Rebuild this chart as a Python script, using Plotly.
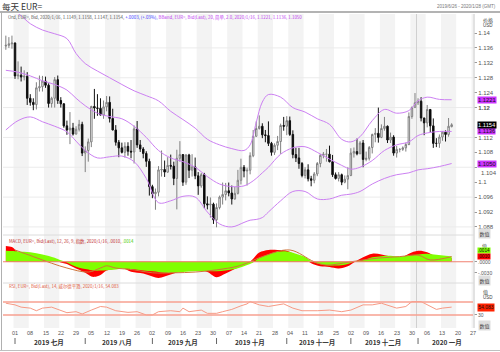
import pandas as pd
import plotly.graph_objects as go

# ---------------- data ----------------
dates = pd.bdate_range("2019-06-26", "2020-01-28")

opens = [
1.1365,1.1367,1.1371,
1.1373,1.1285,1.1287,1.1282,1.1284,
1.1225,1.1214,1.1208,1.1253,1.1256,
1.1271,1.1260,1.1211,1.1225,1.1275,
1.1219,1.1210,1.1151,1.1140,1.1145,
1.1129,1.1142,1.1155,1.1078,1.1085,
1.1108,1.1203,1.1199,1.1198,1.1180,
1.1202,1.1214,1.1171,1.1140,1.1107,
1.1092,1.1080,1.1096,1.1083,1.1081,
1.1143,1.1100,1.1089,1.1077,1.1056,
1.0988,1.0969,1.0973,1.1033,1.1034,
1.1027,1.1045,1.1043,1.1010,1.1064,
1.1074,1.1000,1.1073,1.1032,1.1041,
1.1017,1.0990,1.1020,1.0942,1.0939,
1.0941,1.0899,1.0932,1.0960,1.0967,
1.0977,1.0971,1.0955,1.0970,1.1005,
1.1040,1.1030,1.1032,1.1071,1.1123,
1.1144,1.1150,1.1127,1.1125,1.1104,
1.1080,1.1099,1.1109,1.1152,1.1150,
1.1165,1.1128,1.1074,1.1065,1.1050,
1.1018,1.1033,1.1009,1.1005,1.1022,
1.1050,1.1072,1.1075,1.1075,1.1055,
1.1020,1.1010,1.1020,1.1000,1.1008,
1.1018,1.1078,1.1082,1.1076,1.1105,
1.1061,1.1064,1.1093,1.1128,1.1131,
1.1120,1.1144,1.1150,1.1113,1.1121,
1.1078,1.1088,1.1088,1.1092,1.1101,
1.1176,1.1200,1.1213,1.1217,1.1172,
1.1159,1.1195,1.1151,1.1104,1.1104,
1.1121,1.1134,1.1128,1.1149,
]
highs = [
1.1393,1.1389,1.1393,
1.1375,1.1324,1.1310,1.1300,1.1295,
1.1236,1.1225,1.1268,1.1286,1.1285,
1.1283,1.1265,1.1229,1.1282,1.1286,
1.1228,1.1212,1.1165,1.1188,1.1159,
1.1150,1.1167,1.1162,1.1096,1.1117,
1.1205,1.1250,1.1236,1.1225,1.1219,
1.1231,1.1230,1.1197,1.1153,1.1113,
1.1106,1.1107,1.1107,1.1113,1.1152,
1.1164,1.1113,1.1094,1.1083,1.1063,
1.0993,1.0983,1.1043,1.1085,1.1058,
1.1067,1.1074,1.1055,1.1087,1.1110,
1.1075,1.1075,1.1076,1.1075,1.1066,
1.1027,1.1025,1.1025,1.0962,1.0959,
1.0945,1.0943,1.0964,1.0999,1.0998,
1.0999,1.0991,1.0987,1.1033,1.1063,
1.1046,1.1039,1.1080,1.1140,1.1163,
1.1179,1.1158,1.1140,1.1163,1.1108,
1.1104,1.1124,1.1157,1.1175,1.1177,
1.1176,1.1139,1.1092,1.1092,1.1054,
1.1040,1.1048,1.1017,1.1027,1.1054,
1.1075,1.1081,1.1089,1.1098,1.1073,
1.1026,1.1027,1.1023,1.1018,1.1040,
1.1091,1.1093,1.1117,1.1110,1.1113,
1.1082,1.1097,1.1130,1.1145,1.1200,
1.1155,1.1175,1.1152,1.1133,1.1126,
1.1097,1.1091,1.1096,1.1106,1.1187,
1.1203,1.1239,1.1225,1.1228,1.1173,
1.1207,1.1196,1.1171,1.1118,1.1128,
1.1137,1.1139,1.1172,1.1158,
]
lows = [
1.1355,1.1360,1.1358,
1.1277,1.1276,1.1270,1.1273,1.1207,
1.1205,1.1193,1.1195,1.1243,1.1243,
1.1253,1.1200,1.1200,1.1200,1.1210,
1.1200,1.1146,1.1127,1.1102,1.1125,
1.1128,1.1136,1.1070,1.1027,1.1055,
1.1094,1.1170,1.1178,1.1179,1.1170,
1.1190,1.1160,1.1139,1.1098,1.1067,
1.1077,1.1066,1.1071,1.1064,1.1050,
1.1092,1.1081,1.1064,1.1041,1.0964,
1.0957,1.0926,1.0962,1.1015,1.1014,
1.1025,1.1034,1.0992,1.0927,1.1055,
1.0990,1.0993,1.1011,1.1015,1.1008,
1.0966,1.0985,1.0930,1.0927,1.0905,
1.0888,1.0879,1.0927,1.0940,1.0951,
1.0962,1.0940,1.0953,1.0967,1.0994,
1.1013,1.0991,1.1021,1.1067,1.1122,
1.1141,1.1118,1.1107,1.1097,1.1071,
1.1073,1.1086,1.1076,1.1138,1.1126,
1.1124,1.1064,1.1054,1.1036,1.1013,
1.1010,1.1002,1.0989,1.0997,1.1016,
1.1040,1.1064,1.1055,1.1053,1.1014,
1.1007,1.1002,1.0992,1.0997,1.0981,
1.1016,1.1066,1.1072,1.1076,1.1040,
1.1056,1.1058,1.1077,1.1107,1.1106,
1.1118,1.1138,1.1105,1.1105,1.1071,
1.1066,1.1080,1.1084,1.1082,1.1099,
1.1170,1.1200,1.1207,1.1163,1.1126,
1.1147,1.1134,1.1092,1.1094,1.1092,
1.1111,1.1109,1.1122,1.1147,
]
closes = [
1.1367,1.1371,1.1373,
1.1285,1.1287,1.1282,1.1284,1.1225,
1.1214,1.1208,1.1253,1.1256,1.1271,
1.1260,1.1211,1.1225,1.1275,1.1219,
1.1210,1.1151,1.1140,1.1145,1.1129,
1.1142,1.1155,1.1078,1.1085,1.1108,
1.1203,1.1199,1.1198,1.1180,1.1202,
1.1214,1.1171,1.1140,1.1107,1.1092,
1.1080,1.1096,1.1083,1.1081,1.1143,
1.1100,1.1089,1.1077,1.1056,1.0988,
1.0969,1.0973,1.1033,1.1034,1.1027,
1.1045,1.1043,1.1010,1.1064,1.1074,
1.1000,1.1073,1.1032,1.1041,1.1017,
1.0990,1.1020,1.0942,1.0939,1.0941,
1.0899,1.0932,1.0960,1.0967,1.0977,
1.0971,1.0955,1.0970,1.1005,1.1040,
1.1030,1.1032,1.1071,1.1123,1.1144,
1.1150,1.1127,1.1125,1.1104,1.1080,
1.1099,1.1109,1.1152,1.1150,1.1165,
1.1128,1.1074,1.1065,1.1050,1.1018,
1.1033,1.1009,1.1005,1.1022,1.1050,
1.1072,1.1075,1.1075,1.1055,1.1020,
1.1010,1.1020,1.1000,1.1008,1.1018,
1.1078,1.1082,1.1076,1.1105,1.1061,
1.1064,1.1093,1.1128,1.1131,1.1120,
1.1144,1.1150,1.1113,1.1121,1.1078,
1.1088,1.1088,1.1092,1.1101,1.1176,
1.1200,1.1213,1.1217,1.1172,1.1159,
1.1195,1.1151,1.1104,1.1104,1.1121,
1.1134,1.1128,1.1150,1.1154,
]

bb_day = [0, 4, 8, 12, 16, 20, 23, 26, 30, 34, 38, 42, 46, 50, 54, 58, 62, 66, 70, 74,
          78, 80, 82, 84, 86, 90, 94, 98, 102, 106, 110, 113, 116, 120, 124, 128, 132, 135, 138, 142, 146]
bb_upper = [1.1460, 1.1452, 1.1425, 1.1408, 1.1398, 1.1385, 1.1345, 1.1318, 1.1298, 1.1280, 1.1262,
            1.1245, 1.1232, 1.1218, 1.1190, 1.1168, 1.1145, 1.1115, 1.1100, 1.1090, 1.1085, 1.1100,
            1.1160, 1.1215, 1.1235, 1.1228, 1.1200, 1.1188, 1.1170, 1.1155, 1.1115, 1.1108, 1.1122,
            1.1165, 1.1195, 1.1185, 1.1192, 1.1218, 1.1228, 1.1222, 1.1221]
bb_mid = [1.1300, 1.1295, 1.1285, 1.1272, 1.1262, 1.1247, 1.1225, 1.1205, 1.1185, 1.1176, 1.1170,
          1.1150, 1.1120, 1.1085, 1.1065, 1.1055, 1.1040, 1.1015, 1.0995, 1.0988, 1.0990, 1.0998,
          1.1010, 1.1025, 1.1040, 1.1075, 1.1092, 1.1095, 1.1080, 1.1062, 1.1045, 1.1035, 1.1040,
          1.1058, 1.1085, 1.1100, 1.1108, 1.1125, 1.1132, 1.1136, 1.1136]
bb_lower = [1.1140, 1.1165, 1.1175, 1.1162, 1.1150, 1.1135, 1.1110, 1.1085, 1.1065, 1.1068, 1.1070,
            1.1055, 1.1010, 1.0945, 1.0950, 1.0962, 1.0960, 1.0920, 1.0888, 1.0880, 1.0892, 1.0898,
            1.0900, 1.0905, 1.0920, 1.0950, 1.0975, 1.0975, 1.0955, 1.0955, 1.0965, 1.0968, 1.0975,
            1.0995, 1.1010, 1.1020, 1.1025, 1.1033, 1.1036, 1.1042, 1.1050]

# MACD (12, 26, 9)
macd_day = [0, 2, 4, 8, 12, 16, 18, 20, 22, 24, 26, 28, 29, 31, 33, 36, 38, 41, 45, 48, 50, 52, 55,
            58, 62, 66, 69, 72, 75, 78, 80, 81, 83, 86, 89, 92, 95, 98, 100, 103, 106, 109, 112, 114,
            117, 120, 123, 126, 129, 132, 135, 138, 141, 144, 146]
macd_val = [0.0043, 0.0040, 0.0026, 0.0018, 0.0010, 0.0004, -0.0002, -0.0006, -0.0014, -0.0022,
            -0.0030, -0.0040, -0.0041, -0.0036, -0.0024, -0.0018, -0.0016, -0.0027, -0.0032, -0.0040,
            -0.0044, -0.0040, -0.0032, -0.0024, -0.0020, -0.0028, -0.0042, -0.0032, -0.0020, -0.0008,
            0.0000, 0.0008, 0.0025, 0.0032, 0.0032, 0.0030, 0.0018, 0.0006, -0.0004, -0.0012, -0.0014,
            -0.0018, -0.0012, -0.0002, 0.0012, 0.0022, 0.0020, 0.0014, 0.0010, 0.0022, 0.0030, 0.0026,
            0.0014, 0.0010, 0.0010]
signal_val = [0.0030, 0.0029, 0.0028, 0.0026, 0.0020, 0.0011, 0.0004, -0.0002, -0.0010, -0.0016,
              -0.0020, -0.0023, -0.0024, -0.0024, -0.0023, -0.0021, -0.0019, -0.0020, -0.0024, -0.0026,
              -0.0028, -0.0030, -0.0030, -0.0028, -0.0026, -0.0025, -0.0026, -0.0024, -0.0020, -0.0012,
              -0.0006, -0.0002, 0.0010, 0.0020, 0.0027, 0.0028, 0.0022, 0.0013, 0.0002, -0.0007, -0.0010,
              -0.0010, -0.0006, 0.0000, 0.0004, 0.0012, 0.0015, 0.0016, 0.0014, 0.0016, 0.0020, 0.0022,
              0.0019, 0.0016, 0.0014]
trend_day = [3, 9, 15, 20, 27, 31, 33, 36, 42, 48, 55, 62, 69, 76, 80, 84, 93, 101, 105, 113, 122,
             129, 135, 139, 146]
trend_val = [0.0032, 0.0014, -0.0004, -0.0017, -0.0028, -0.0017, -0.0011, -0.0017, -0.0022, -0.0030,
             -0.0030, -0.0028, -0.0022, -0.0012, 0.0000, 0.0014, 0.0032, 0.0000, -0.0009, 0.0000,
             0.0010, 0.0014, 0.0018, 0.0005, 0.0014]

# RSI (14, Wilder)
rsi_day = [0, 3, 5, 8, 10, 12, 15, 18, 20, 23, 25, 28, 31, 33, 36, 40, 43, 46, 48, 50, 54, 57, 58,
           60, 64, 66, 69, 71, 74, 77, 79, 80, 83, 86, 91, 94, 97, 102, 106, 110, 113, 117, 120, 123,
           126, 128, 131, 133, 136, 138, 141, 143, 146]
rsi_val = [66, 61, 54, 51, 43, 51, 54, 45, 37, 40, 33, 45, 56, 54, 43, 38, 40, 30, 30, 40, 43, 40, 51,
           40, 45, 35, 35, 40, 47, 58, 64, 71, 61, 56, 64, 51, 43, 43, 45, 40, 45, 61, 61, 66, 56, 51,
           56, 71, 71, 61, 47, 51, 54.083]

price_ticks = [1.088, 1.092, 1.096, 1.1, 1.104, 1.108, 1.112, 1.12, 1.124, 1.128, 1.132, 1.136, 1.14]
grid_levels = [1.088, 1.096, 1.104, 1.112, 1.12, 1.128, 1.136]
month_names = ["2019 七月", "2019 八月", "2019 九月", "2019 十月", "2019 十一月", "2019 十二月", "2020 一月"]

# ---------------- layout helpers ----------------
W, H = 500, 352
def px(x): return x / W
def py(y): return 1 - y / H

FONT = "Liberation Sans, Noto Sans CJK SC, sans-serif"
CJK = "Noto Sans CJK SC, Liberation Sans, sans-serif"
day_idx = list(range(len(closes)))
all_idx = list(range(len(dates)))

fig = go.Figure()
shapes = []
annotations = []

# alternating weekly shading
mondays = [i for i, d in enumerate(dates) if d.weekday() == 0]
for k, m in enumerate(mondays):
    if k % 2 == 0:
        shapes.append(dict(type="rect", xref="x", yref="paper", x0=m - 0.5, x1=m + 4.5,
                           y0=py(328), y1=py(14), fillcolor="#f3f3f3", line=dict(width=0), layer="below"))

# price grid
for g in grid_levels:
    shapes.append(dict(type="line", xref="paper", yref="y", x0=px(3), x1=px(473), y0=g, y1=g,
                       line=dict(color="#ebebeb", width=1), layer="below"))

# year separator
year_start = [i for i, d in enumerate(dates) if d.year == 2020][0]
shapes.append(dict(type="line", xref="x", yref="paper", x0=year_start - 0.5, x1=year_start - 0.5,
                   y0=py(328), y1=py(14), line=dict(color="#d0d0d0", width=1), layer="below"))

# frame lines
shapes += [
    dict(type="line", xref="paper", yref="paper", x0=0, x1=1, y0=py(12), y1=py(12), line=dict(color="#9a9a9a", width=1.5)),
    dict(type="line", xref="paper", yref="paper", x0=px(1.5), x1=px(1.5), y0=py(350), y1=py(12), line=dict(color="#b0b0b0", width=1)),
    dict(type="line", xref="paper", yref="paper", x0=0, x1=1, y0=py(350.5), y1=py(350.5), line=dict(color="#c0c0c0", width=1)),
    dict(type="line", xref="paper", yref="paper", x0=px(3), x1=px(474), y0=py(235), y1=py(235), line=dict(color="#dcdcdc", width=1)),
    dict(type="line", xref="paper", yref="paper", x0=px(3), x1=px(474), y0=py(283), y1=py(283), line=dict(color="#dcdcdc", width=1)),
    dict(type="line", xref="paper", yref="paper", x0=px(474), x1=px(474), y0=py(328), y1=py(14), line=dict(color="#d8d8d8", width=1.5)),
]

# candles
fig.add_trace(go.Candlestick(
    x=day_idx, open=opens, high=highs, low=lows, close=closes,
    increasing=dict(line=dict(color="#808080", width=1), fillcolor="#ffffff"),
    decreasing=dict(line=dict(color="#111111", width=1), fillcolor="#000000"),
    whiskerwidth=0, showlegend=False, xaxis="x", yaxis="y"))

BBC = "#cc80f2"
for arr in (bb_upper, bb_mid, bb_lower):
    fig.add_trace(go.Scatter(x=bb_day, y=arr, mode="lines", line=dict(color=BBC, width=1, shape="spline"),
                             showlegend=False, xaxis="x", yaxis="y"))

# MACD
fig.add_trace(go.Scatter(x=macd_day, y=macd_val, mode="lines", fill="tozeroy", fillcolor="#ff0000",
                         line=dict(width=0, color="#ff0000", shape="spline"), showlegend=False, xaxis="x", yaxis="y2"))
fig.add_trace(go.Scatter(x=macd_day, y=signal_val, mode="lines", fill="tozeroy", fillcolor="#80ff00",
                         line=dict(width=0, color="#80ff00", shape="spline"), showlegend=False, xaxis="x", yaxis="y2"))
fig.add_trace(go.Scatter(x=trend_day, y=trend_val, mode="lines",
                         line=dict(width=1, color="#d0753a", shape="spline"), showlegend=False, xaxis="x", yaxis="y2"))
shapes.append(dict(type="line", xref="paper", yref="y2", x0=px(3), x1=px(473), y0=0, y1=0,
                   line=dict(color="#f08070", width=1)))

# RSI
for lvl in (70, 30):
    shapes.append(dict(type="line", xref="paper", yref="y3", x0=px(3), x1=px(473), y0=lvl, y1=lvl,
                       line=dict(color="#f7a090", width=1.6)))
fig.add_trace(go.Scatter(x=rsi_day, y=rsi_val, mode="lines", line=dict(width=1, color="#f79a85"),
                         showlegend=False, xaxis="x", yaxis="y3"))

# ---------------- text ----------------
def ann(x, y, text, size=5, color="#555", xanchor="left", yanchor="middle", xref="paper", yref="paper",
        family=FONT, **kw):
    annotations.append(dict(x=x, y=y, xref=xref, yref=yref, text=text, showarrow=False,
                            xanchor=xanchor, yanchor=yanchor,
                            font=dict(size=size, color=color, family=family), **kw))

ann(px(1), py(6.5), "每天 EUR=", size=8.5, color="#333", family=CJK, borderpad=0)
ann(px(498), py(6), "2019/6/26 - 2020/1/28 (GMT)", size=4.5, color="#777", xanchor="right")

legend_main = ("<span style='color:#555'>Ord, EUR=, Bid, 2020/1/16, 1.1149, 1.1158, 1.1147, 1.1154, </span>"
               "<span style='color:#3a3aff'>+.0003, (+.03%), </span>"
               "<span style='color:#c040f0'>BBand, EUR=, Bid(Last), 20, 简单, 2.0, 2020/1/16, 1.1221, 1.1136, 1.1050</span>")
ann(px(7), py(17), legend_main, size=4.4, family=CJK, borderpad=0)
legend_macd = ("<span style='color:#c03030'>MACD, EUR=, Bid(Last), 12, 26, 9, 指数, 2020/1/16, .0010, </span>"
               "<span style='color:#44cc00'>.0014</span>")
ann(px(7), py(241), legend_macd, size=4.4, family=CJK)
ann(px(7), py(286.5), "RSI, EUR=, Bid(Last), 14, 威尔德平滑, 2020/1/16, 54.083", size=4.4, color="#e05a40", family=CJK)

# right axis headers & boxes
ann(px(481), py(19.5), "价格", size=5, color="#444", family=CJK)
ann(px(481), py(25.5), "USD", size=4.5, color="#444")
ann(px(478), py(233), "数值", size=5, color="#444", family=CJK, bgcolor="#dedede", borderpad=0.5)
ann(px(481), py(246), "值", size=5, color="#444", family=CJK, borderpad=0)
ann(px(478), py(280.5), "数值", size=5, color="#444", family=CJK, bgcolor="#dedede", borderpad=0.5)
ann(px(481), py(291.5), "值", size=5, color="#444", family=CJK)
ann(px(481), py(297.5), "USD", size=4.5, color="#444")
ann(px(478), py(325.5), "数值", size=5, color="#444", family=CJK, bgcolor="#dedede", borderpad=0.5)

# value tags
for val, bg, fg in [(bb_upper[-1], "#cc33ff", "#111"), (bb_mid[-1], "#cc33ff", "#111"),
                    (bb_lower[-1], "#cc33ff", "#111"), (closes[-1], "#000000", "#ffffff")]:
    ann(px(476.5), val, f"{val:.4f}", size=5.8, color=fg, yref="y", bgcolor=bg, borderpad=0)
ann(px(476.5), py(251), f".{int(round(signal_val[-1]*10000)):04d}", size=4.6, color="#111",
    bgcolor="#80ff00", borderpad=0)
ann(px(476.5), py(256), f".{int(round(macd_val[-1]*10000)):04d}", size=4.6, color="#111",
    bgcolor="#ff0000", borderpad=0)
ann(px(476.5), rsi_val[-1], f"{rsi_val[-1]:.3f}", size=5, color="#111", yref="y3", bgcolor="#ff2200", borderpad=0.3)

# price label partly hidden under the lower-band tag: drawn just below the tag
hidden_tick = 1.104
ann(px(479.5), hidden_tick, "1.104", size=6, color="#555", yref="y", yanchor="top", borderpad=0,
    yshift=-1.5)

# x labels
for m in mondays:
    ann(m, py(333), f"{dates[m].day:02d}", size=5.5, color="#555", xanchor="center", xref="x")
months = [(k, grp) for k, grp in pd.Series(all_idx, index=dates).groupby([dates.year, dates.month])
          if k != (2019, 6)]
for name, ((yr, mo), grp) in zip(month_names, months):
    first, last = grp.iloc[0], grp.iloc[-1]
    shapes.append(dict(type="line", xref="x", yref="paper", x0=first, x1=first, y0=py(344), y1=py(338),
                       line=dict(color="#666", width=1)))
    ann((first + last) / 2, py(341.5), f"<b>{name}</b>", size=6.5, color="#333",
        xanchor="center", xref="x", family=CJK)

def tick_label(t):
    if abs(t - 1.12) < 1e-9:
        return "<b>1.12</b>"
    if abs(t - hidden_tick) < 1e-9:
        return " "
    return f"{t:g}"
tick_text = [tick_label(t) for t in price_ticks]

fig.update_layout(
    width=W, height=H, margin=dict(l=0, r=0, t=0, b=0),
    paper_bgcolor="white", plot_bgcolor="rgba(0,0,0,0)",
    font=dict(family=FONT, size=6, color="#555"),
    showlegend=False, hovermode=False,
    shapes=shapes, annotations=annotations,
    xaxis=dict(domain=[px(3), px(473)], range=[-0.93, 153.0], visible=False,
               rangeslider=dict(visible=False), anchor="y3"),
    yaxis=dict(domain=[py(234), py(14)], range=[1.0861, 1.1451], side="right", anchor="x",
               tickvals=price_ticks, ticktext=tick_text, ticks="outside", ticklen=3, tickcolor="#999",
               tickfont=dict(size=6, color="#555"), showgrid=False, zeroline=False, showline=False),
    yaxis2=dict(domain=[py(282), py(236)], range=[-0.0055, 0.0070], side="right", anchor="x",
                tickvals=[0, -0.003], ticktext=[".0000", "-.0030"], ticks="outside", ticklen=3, tickcolor="#999",
                tickfont=dict(size=5, color="#555"), showgrid=False, zeroline=False, showline=False),
    yaxis3=dict(domain=[py(328), py(284)], range=[-10, 125], side="right", anchor="x",
                tickvals=[30], ticktext=["30"], ticks="outside", ticklen=3, tickcolor="#999",
                tickfont=dict(size=5, color="#555"), showgrid=False, zeroline=False, showline=False),
)

fig.write_html("out.html")
